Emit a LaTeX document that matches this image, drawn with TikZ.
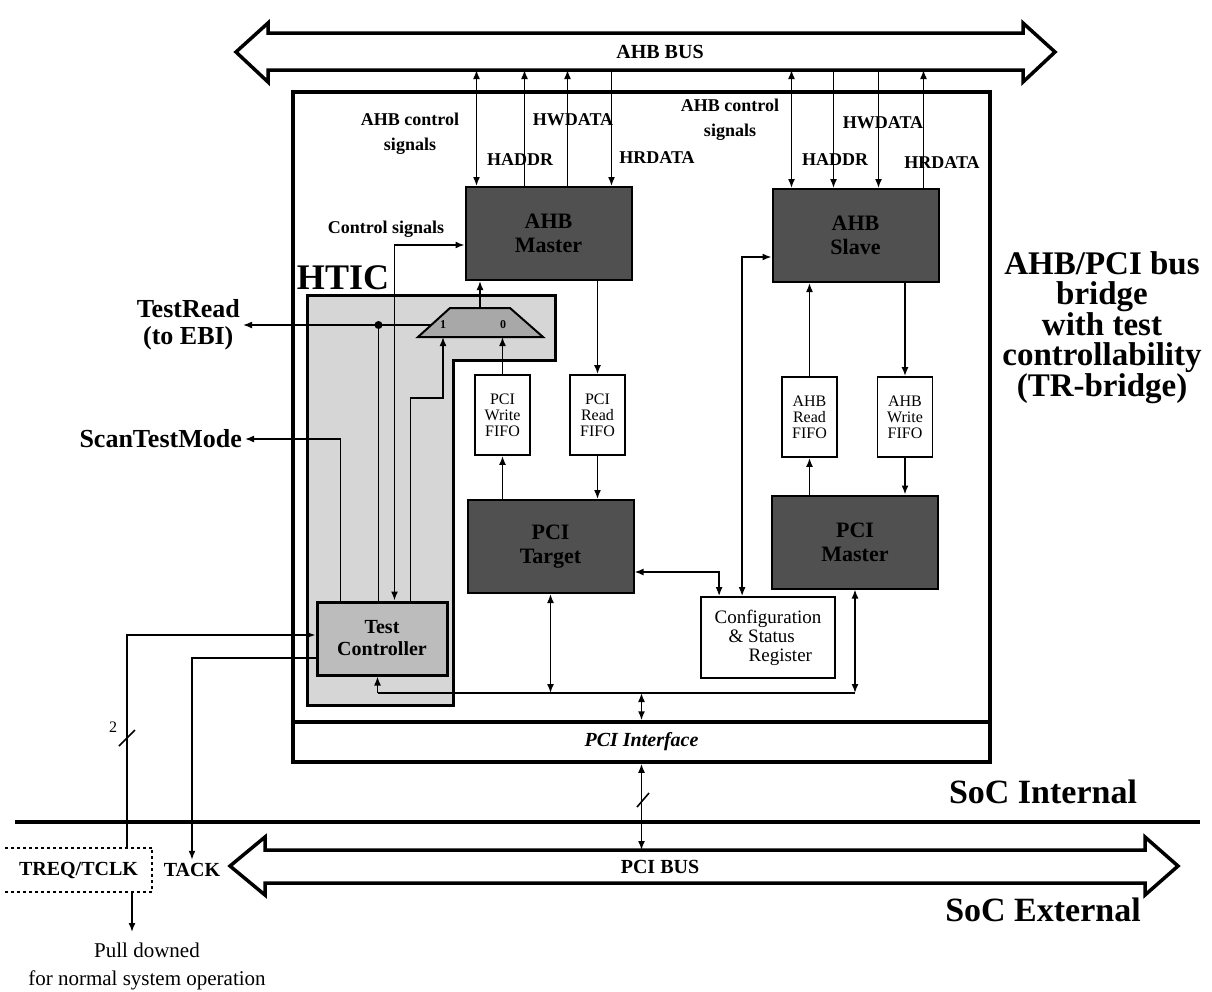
\documentclass[tikz,border=0pt]{standalone}
\usepackage{fontspec}
\setmainfont{Liberation Serif}
\usetikzlibrary{arrows.meta,positioning}
\definecolor{BlockGray}{RGB}{80,80,80}
\definecolor{HticGray}{RGB}{214,214,214}
\definecolor{MuxGray}{RGB}{168,168,168}
\definecolor{CtrlGray}{RGB}{188,188,188}
\tikzset{
  bridgebox/.style={draw,line width=4pt,minimum width=697pt,minimum height=670pt},
  ifbox/.style={draw,line width=3.5pt,fill=white,minimum width=697pt,minimum height=40pt,
    font=\fontsize{20}{22}\selectfont\bfseries\itshape},
  darkblock/.style={draw,line width=2pt,fill=BlockGray,minimum width=166pt,minimum height=93pt,
    align=center,font=\fontsize{22}{24}\selectfont\bfseries},
  fifo/.style={draw,line width=1.8pt,fill=white,minimum width=55pt,minimum height=80pt,
    align=center,inner sep=1pt,font=\fontsize{16}{16}\selectfont},
  regbox/.style={draw,line width=1.8pt,fill=white,minimum width=134pt,minimum height=81pt,
    align=left,font=\fontsize{19}{19}\selectfont},
  ctrlbox/.style={draw,line width=3pt,fill=CtrlGray,minimum width=130pt,minimum height=73pt,
    align=center,font=\fontsize{20}{22}\selectfont\bfseries},
  sig/.style={line width=1.6pt},
  lbl/.style={font=\fontsize{18}{25}\selectfont\bfseries,align=center,inner sep=0pt},
  pinlbl/.style={font=\fontsize{26}{27}\selectfont\bfseries,align=center,inner sep=0pt},
  sidetitle/.style={font=\fontsize{33}{30}\selectfont\bfseries,align=center,inner sep=0pt},
  soclbl/.style={font=\fontsize{34}{36}\selectfont\bfseries,inner sep=0pt},
  bus/.style={line width=3.5pt,fill=white,line join=miter},
  buslbl/.style={font=\fontsize{20}{22}\selectfont\bfseries,inner sep=0pt},
  >={Latex[length=9pt,width=7pt]}
}
\begin{document}
\begin{tikzpicture}[x=1pt,y=-1pt]
  \useasboundingbox (0,0) rectangle (1212,991);
  % buses
  \draw[bus] (236,52) -- (268,23) -- (268,33) -- (1023,33) -- (1023,23) -- (1055,52)
    -- (1023,82) -- (1023,70) -- (268,70) -- (268,82) -- cycle;
  \node[buslbl] (ahbbus) at (660,52) {AHB BUS};
  \draw[bus] (230,866) -- (265,837) -- (265,850) -- (1145,850) -- (1145,837) -- (1178,866)
    -- (1145,895) -- (1145,883) -- (265,883) -- (265,895) -- cycle;
  \node[buslbl] (pcibus) at (660,867) {PCI BUS};
  \coordinate (ahbedge) at (0,70);
  \coordinate (pciedge) at (0,850);
  \draw[line width=3.5pt] (15,822) -- (1200,822);

  % bridge and HTIC
  \node[bridgebox] (bridge) at (641.5,427) {};
  \node[ifbox] (pciif) at (641.5,742) {PCI Interface};
  \draw[line width=3pt,fill=HticGray] (307,295) -- (555,295) -- (555,360) -- (453,360)
    -- (453,705) -- (307,705) -- cycle;
  \node[font=\fontsize{36}{36}\selectfont\bfseries] (htic) at (343,278) {HTIC};
  \draw[line width=2pt,fill=MuxGray] (418,337) -- (450,308) -- (510,308) -- (543,337) -- cycle;
  \coordinate (muxout) at (480,308);
  \coordinate (muxa) at (443,337);
  \coordinate (muxb) at (503,337);
  \coordinate (muxleft) at (431,325);
  \node[font=\fontsize{12}{12}\selectfont\bfseries] (muxalbl) at (443,325) {1};
  \node[font=\fontsize{12}{12}\selectfont\bfseries] (muxblbl) at (503,325) {0};

  % blocks
  \node[darkblock] (amaster) at (548.5,233.5) {AHB\\Master};
  \node[darkblock] (aslave) at (855.5,235.5) {AHB\\Slave};
  \node[darkblock] (ptarget) at (550.5,546.5) {PCI\\Target};
  \node[darkblock] (pmaster) at (855,542) {PCI\\Master};
  \node[fifo] (pwfifo) at (502.5,415) {PCI\\Write\\FIFO};
  \node[fifo] (prfifo) at (597.5,415) {PCI\\Read\\FIFO};
  \node[fifo] (arfifo) at (809.5,417) {AHB\\Read\\FIFO};
  \node[fifo] (awfifo) at (905,417) {AHB\\Write\\FIFO};
  \node[regbox] (csr) at (768,637.5) {Configuration\\\hspace*{14pt}\& Status\\\hspace*{34pt}Register};
  \node[ctrlbox] (tc) at (382,638.5) {Test\\Controller};

  % attachment points
  \foreach \n/\dx in {1/12,2/60,3/103,4/147}
    \coordinate (am\n) at ([xshift=\dx pt]amaster.north west);
  \foreach \n/\dx in {1/20,2/62,3/107,4/152}
    \coordinate (as\n) at ([xshift=\dx pt]aslave.north west);
  \foreach \n/\dx in {m/25,r/63,c/79,s/95}
    \coordinate (tc\n) at ([xshift=\dx pt]tc.north west);
  \coordinate (tcb) at ([xshift=62pt]tc.south west);
  \coordinate (csra) at ([xshift=19pt]csr.north west);
  \coordinate (csrb) at ([xshift=42pt]csr.north west);
  \coordinate (ctlrow) at (0,245);
  \coordinate (selrow) at (0,398);
  \coordinate (tcinrow) at (0,635);
  \coordinate (tcoutrow) at (0,658);
  \coordinate (pcirow) at (0,693);
  \coordinate (csrrowa) at (0,572);
  \coordinate (csrrowb) at (0,257);

  % AHB side signals
  \draw[sig,<->] (am1) -- (am1 |- ahbedge);
  \draw[sig,->] (am2) -- (am2 |- ahbedge);
  \draw[sig,->] (am3) -- (am3 |- ahbedge);
  \draw[sig,<-] (am4) -- (am4 |- ahbedge);
  \draw[sig,<->] (as1) -- (as1 |- ahbedge);
  \draw[sig,<-] (as2) -- (as2 |- ahbedge);
  \draw[sig,<-] (as3) -- (as3 |- ahbedge);
  \draw[sig,->] (as4) -- (as4 |- ahbedge);
  \node[lbl] (ahbctlm) at (410,134) {AHB control\\signals};
  \node[lbl] (hwdm) at (573,120) {HWDATA};
  \node[lbl] (hadm) at (520,160) {HADDR};
  \node[lbl] (hrdm) at (657,158) {HRDATA};
  \node[lbl] (ahbctls) at (730,120) {AHB control\\signals};
  \node[lbl] (hwds) at (883,123) {HWDATA};
  \node[lbl] (hads) at (835,160) {HADDR};
  \node[lbl] (hrds) at (942,163) {HRDATA};
  \node[lbl] (ctllbl) at (386,229) {Control signals};

  % FIFO paths
  \draw[sig,->] (muxout) -- (muxout |- amaster.south);
  \draw[sig,->] (pwfifo.north) -- (pwfifo.north |- muxb);
  \draw[sig,->] (pwfifo.south |- ptarget.north) -- (pwfifo.south);
  \draw[sig,->] (prfifo.north |- amaster.south) -- (prfifo.north);
  \draw[sig,->] (prfifo.south) -- (prfifo.south |- ptarget.north);
  \draw[sig,->] (arfifo.north) -- (arfifo.north |- aslave.south);
  \draw[sig,->] (arfifo.south |- pmaster.north) -- (arfifo.south);
  \draw[sig,->] (awfifo.north |- aslave.south) -- (awfifo.north);
  \draw[sig,->] (awfifo.south) -- (awfifo.south |- pmaster.north);

  % configuration register
  \draw[sig,<->] (ptarget.east |- csrrowa) -- (csra |- csrrowa) -- (csra);
  \draw[sig,<->] (aslave.west |- csrrowb) -- (csrb |- csrrowb) -- (csrb);

  % test controller
  \coordinate (trd) at (243,325);
  \coordinate (stm) at (245,439);
  \node[pinlbl,left=3pt of trd] (trdlbl) {TestRead\\(to EBI)};
  \node[pinlbl,left=3pt of stm] (stmlbl) {ScanTestMode};
  \draw[sig,->] (muxleft) -- (trd);
  \draw[sig] (tcr) -- (tcr |- trd);
  \fill (tcr |- trd) circle (4);
  \draw[sig,->] (tcm) -- (tcm |- stm) -- (stm);
  \draw[sig,<->] (tcc) -- (tcc |- ctlrow) -- (amaster.west |- ctlrow);
  \draw[sig,->] (tcs) -- (tcs |- selrow) -- (muxa |- selrow) -- (muxa);

  % PCI side
  \draw[sig] (tcb |- pcirow) -- (pmaster.south |- pcirow);
  \draw[sig,->] (tcb |- pcirow) -- (tcb);
  \draw[sig,<->] (ptarget.south) -- (ptarget.south |- pcirow);
  \draw[sig,<->] (pmaster.south) -- (pmaster.south |- pcirow);
  \draw[sig,<->] (pciif.north |- pcirow) -- (pciif.north);
  \draw[sig,<->] (pciif.south) -- (pciif.south |- pciedge);
  \coordinate (pcislash) at (643,800);
  \draw[sig] ([shift={(-6,7)}]pcislash) -- ([shift={(6,-7)}]pcislash);

  % external pins
  \node[font=\fontsize{20}{22}\selectfont\bfseries,minimum width=147pt,minimum height=44pt] (treq) at (78.5,870) {TREQ/TCLK};
  \draw[sig,dashed] (treq.north west) -- (treq.north east) -- (treq.south east) -- (treq.south west);
  \node[font=\fontsize{20}{22}\selectfont\bfseries] (tack) at (192,870) {TACK};
  \coordinate (treqtop) at ([xshift=122pt]treq.north west);
  \draw[sig,->] (treqtop) -- (treqtop |- tcinrow) -- (tc.west |- tcinrow);
  \draw[sig,->] (tc.west |- tcoutrow) -- (tack.north |- tcoutrow) -- (tack.north);
  \coordinate (treqslash) at (127,738);
  \draw[sig] ([shift={(-8,8)}]treqslash) -- ([shift={(8,-8)}]treqslash);
  \node[font=\fontsize{16}{16}\selectfont] (buswidth) at (113,727) {2};
  \coordinate (pulld) at (132,932);
  \draw[sig,->] (treq.south west -| pulld) -- (pulld);
  \node[font=\fontsize{21}{28}\selectfont,align=center,below=7pt of pulld,xshift=15pt] (pulllbl) {Pull downed\\for normal system operation};

  % titles
  \node[sidetitle] (bridgettl) at (1102,328) {AHB/PCI bus\\bridge\\with test\\controllability\\(TR-bridge)};
  \node[soclbl] (socint) at (1043,792) {SoC Internal};
  \node[soclbl] (socext) at (1043,910) {SoC External};
\end{tikzpicture}
\end{document}
